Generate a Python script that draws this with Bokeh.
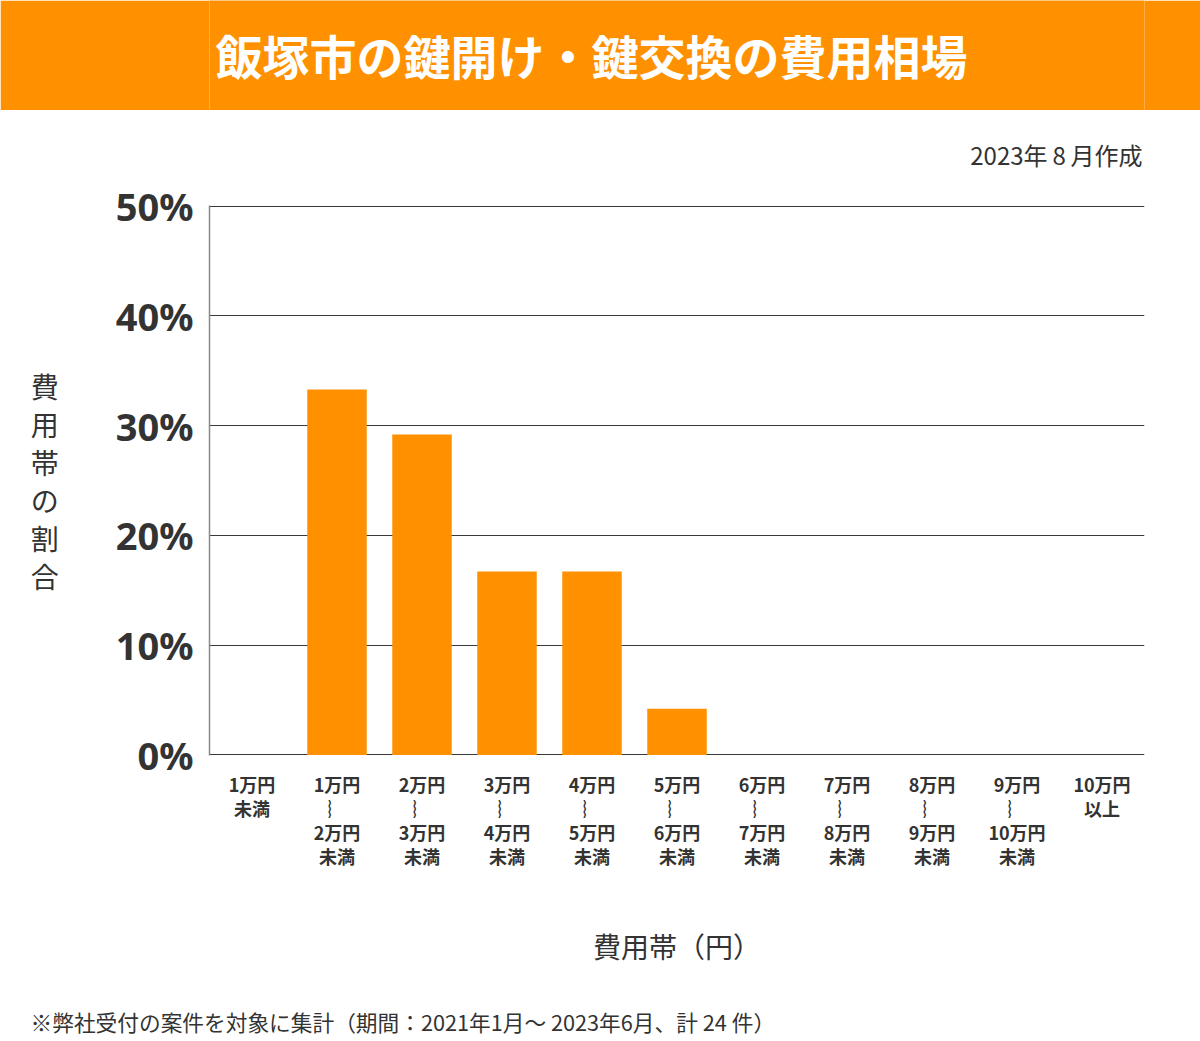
from bokeh.plotting import figure
from bokeh.layouts import column
from bokeh.models import Range1d, FixedTicker, PrintfTickFormatter, Title
from bokeh.core.properties import value
from bokeh.embed import file_html
from bokeh.resources import INLINE

# ---- data ----
title_text = "飯塚市の鍵開け・鍵交換の費用相場"
date_note = "2023年\u20098\u2009月作成"
y_title = "費用帯の割合"
x_title = "費用帯（円）"
footnote = "※弊社受付の案件を対象に集計（期間：2021年1月～ 2023年6月、計 24 件）"

categories = ["1万円未満", "1万円〜2万円未満", "2万円〜3万円未満", "3万円〜4万円未満",
              "4万円〜5万円未満", "5万円〜6万円未満", "6万円〜7万円未満", "7万円〜8万円未満",
              "8万円〜9万円未満", "9万円〜10万円未満", "10万円以上"]
tick_labels = ["1万円\n未満", "1万円\n︴\n2万円\n未満", "2万円\n︴\n3万円\n未満",
               "3万円\n︴\n4万円\n未満", "4万円\n︴\n5万円\n未満", "5万円\n︴\n6万円\n未満",
               "6万円\n︴\n7万円\n未満", "7万円\n︴\n8万円\n未満", "8万円\n︴\n9万円\n未満",
               "9万円\n︴\n10万円\n未満", "10万円\n以上"]
shares = [0.0, 33.3, 29.2, 16.7, 16.7, 4.2, 0.0, 0.0, 0.0, 0.0, 0.0]
y_ticks = [0, 10, 20, 30, 40, 50]

ORANGE = "#ff9000"
TXT = "#333333"
JP = "Noto Sans CJK JP"

W = 1200
FRAME_L, FRAME_R = 209, 1144

# ---- header ----
hdr = figure(width=W, height=110, x_range=Range1d(FRAME_L, FRAME_R), y_range=Range1d(0, 110),
             toolbar_location=None, output_backend="svg",
             min_border=0, min_border_left=0, min_border_right=0,
             min_border_top=0, min_border_bottom=0)
hdr.axis.visible = False
hdr.grid.visible = False
hdr.outline_line_color = None
hdr.background_fill_color = ORANGE
hdr.border_fill_color = ORANGE
hdr.text(x=[591], y=[56], text=[title_text], text_color="white",
         text_font=value(JP), text_font_style="bold", text_font_size="47px",
         text_align="center", text_baseline="middle")

# ---- main chart ----
n = len(categories)
xs = [i + 0.5 for i in range(n)]
p = figure(width=W, height=931, x_range=Range1d(0, n), y_range=Range1d(-0.05, 50.05),
           toolbar_location=None, output_backend="svg",
           min_border_left=FRAME_L, min_border_right=W - FRAME_R,
           min_border_top=95, min_border_bottom=286)
p.outline_line_color = None
p.background_fill_color = "white"
p.border_fill_color = "white"

p.vbar(x=xs, top=shares, width=0.7, bottom=0, fill_color=ORANGE, line_color=None)

# x axis: category labels
p.xaxis.ticker = FixedTicker(ticks=xs)
p.xaxis.major_label_overrides = {x: t for x, t in zip(xs, tick_labels)}
p.xaxis.major_label_text_font = JP
p.xaxis.major_label_text_font_style = "bold"
p.xaxis.major_label_text_font_size = "18px"
p.xaxis.major_label_text_line_height = 0.93
p.xaxis.major_label_text_color = TXT
p.xaxis.major_label_standoff = 15
p.xaxis.major_tick_out = 0
p.xaxis.major_tick_in = 0
p.xaxis.major_tick_line_color = None
p.xaxis.minor_tick_line_color = None
p.xaxis.axis_line_color = None
p.xaxis.axis_label = x_title
p.xaxis.axis_label_text_font = JP
p.xaxis.axis_label_text_font_style = "normal"
p.xaxis.axis_label_text_font_size = "28px"
p.xaxis.axis_label_text_color = TXT
p.xaxis.axis_label_standoff = 54
p.xgrid.visible = False

# y axis
p.yaxis.ticker = FixedTicker(ticks=y_ticks)
p.yaxis.formatter = PrintfTickFormatter(format="%d%%")
p.yaxis.major_label_text_font = "Noto Sans"
p.yaxis.major_label_text_font_style = "bold"
p.yaxis.major_label_text_font_size = "38px"
p.yaxis.major_label_text_color = TXT
p.yaxis.major_label_standoff = 16
p.yaxis.major_tick_out = 0
p.yaxis.major_tick_in = 0
p.yaxis.major_tick_line_color = None
p.yaxis.minor_tick_line_color = None
p.yaxis.axis_line_color = "#888888"
p.yaxis.axis_line_width = 1.5
p.yaxis.axis_label = "\n".join(y_title)
p.yaxis.axis_label_orientation = "horizontal"
p.yaxis.axis_label_text_font = JP
p.yaxis.axis_label_text_font_style = "normal"
p.yaxis.axis_label_text_font_size = "28px"
p.yaxis.axis_label_text_line_height = 0.95
p.yaxis.axis_label_text_color = TXT
p.yaxis.axis_label_standoff = 54

p.ygrid.ticker = FixedTicker(ticks=y_ticks)
p.ygrid.grid_line_color = "#3a3a3a"
p.ygrid.grid_line_width = 1

# the figure's own title slot is unused
p.title.text = ""

# spacer next to the frame, then the date note (above, right)
p.add_layout(Title(text=" ", text_font_size="1px", standoff=29), "above")
p.add_layout(Title(text=date_note, align="right", text_font=JP, text_font_style="normal",
                   text_font_size="24px", text_color=TXT, standoff=4, offset=2), "above")

# spacer below the x axis, then footnote (below, left)
p.add_layout(Title(text=" ", text_font_size="1px", standoff=29), "below")
p.add_layout(Title(text=footnote, align="left", text_font=JP, text_font_style="normal",
                   text_font_size="21.7px", text_color=TXT, standoff=4,
                   offset=30 - FRAME_L), "below")

layout = column(hdr, p, spacing=0)
open("out.html", "w").write(file_html(layout, INLINE))
